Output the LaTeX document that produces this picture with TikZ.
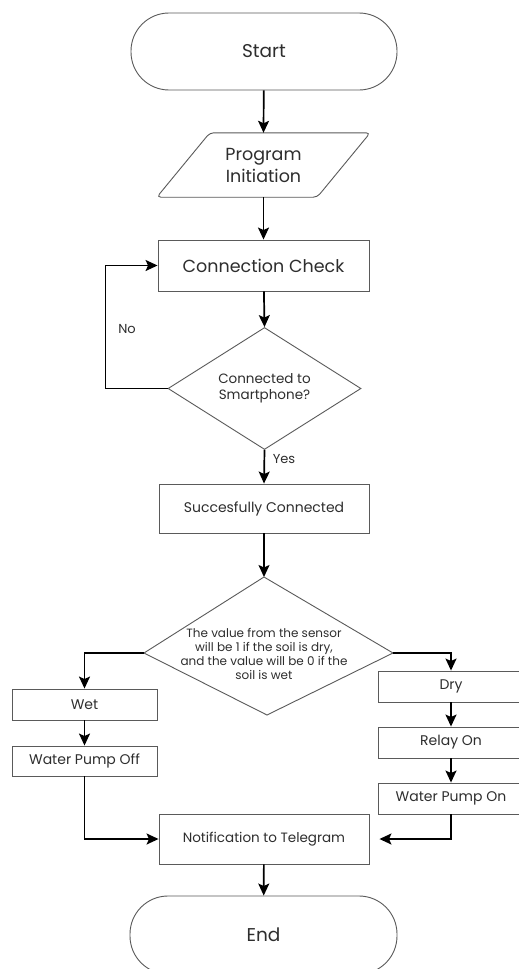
\documentclass[tikz,border=0pt]{standalone}
\usepackage{fontspec}
\setmainfont{Poppins}
\usetikzlibrary{shapes.geometric,arrows.meta,calc}
\definecolor{edge}{HTML}{5A5A5A}
\definecolor{txt}{HTML}{2E2E2E}
\begin{document}
\begin{tikzpicture}[x=1pt,y=-1pt,
  base/.style={draw=edge, line width=0.9pt, text=txt, inner sep=0pt, align=center},
  box/.style={base, rectangle},
  term/.style={base, rectangle, rounded corners=38pt, minimum width=266pt, minimum height=77pt, font=\fontsize{18.5}{22}\selectfont},
  arr/.style={draw=black, line width=1.7pt, -{Stealth[length=12pt,width=11pt,inset=2.5pt]}},
  lbl/.style={text=txt, font=\fontsize{13}{16}\selectfont, inner sep=0pt}]
\useasboundingbox (0,0) rectangle (519,969);
\clip (0,0) rectangle (519,969);
\fill[white] (0,0) rectangle (519,969);

\node[term] (start) at (264,51.5) {Start};

\node[inner sep=0pt, minimum width=213pt, minimum height=64pt, text=txt, align=center,
      font=\fontsize{17.5}{22}\selectfont] (pi) at (263.5,165) {Program\\Initiation};
\draw[draw=edge, line width=0.9pt, rounded corners=4pt]
  ($(pi.north west)+(53,0)$) -- (pi.north east) -- ($(pi.south east)-(53,0)$) -- (pi.south west) -- cycle;

\node[box, minimum width=211pt, minimum height=51pt, font=\fontsize{17.5}{21}\selectfont] (cc) at (263.5,265.5) {Connection Check};

\node[base, diamond, minimum width=193pt, minimum height=107pt, font=\fontsize{13.5}{16}\selectfont] (d1) at (264.5,388.5) {Connected to\\Smartphone?};

\node[box, minimum width=210pt, minimum height=49pt, font=\fontsize{14}{17}\selectfont] (sc) at (264,508.5) {Succesfully Connected};

\coordinate (d2t) at (264,577);
\coordinate (d2r) at (393,653);
\coordinate (d2b) at (267,715);
\coordinate (d2l) at (144,653);
\draw[draw=edge, line width=0.9pt] (d2t) -- (d2r) -- (d2b) -- (d2l) -- cycle;
\node[text=txt, align=center, inner sep=0pt, font=\fontsize{12}{14}\selectfont] (d2) at (264,654) {The value from the sensor\\will be 1 if the soil is dry,\\and the value will be 0 if the\\soil is wet};

\node[box, minimum width=145pt, minimum height=31pt, font=\fontsize{14}{16}\selectfont] (wet) at (84.5,704.5) {Wet};
\node[box, minimum width=145pt, minimum height=30pt, font=\fontsize{14}{16}\selectfont] (wpoff) at (84.5,761) {Water Pump Off};

\node[box, minimum width=146pt, minimum height=31pt, font=\fontsize{14}{16}\selectfont] (dry) at (451,686.5) {Dry};
\node[box, minimum width=146pt, minimum height=31pt, font=\fontsize{14}{16}\selectfont] (relay) at (451,742.5) {Relay On};
\node[box, minimum width=146pt, minimum height=31pt, font=\fontsize{14}{16}\selectfont] (wpon) at (451,798.5) {Water Pump On};

\node[box, minimum width=210pt, minimum height=50pt, font=\fontsize{13.5}{17}\selectfont] (notif) at (264,839) {Notification to Telegram};

\node[term, minimum width=267pt, minimum height=78pt] (end) at (263.5,935) {End};

% connectors
\draw[arr] (start) -- (pi.north);
\draw[arr] (pi.south) -- (cc.north);
\draw[arr] (cc) -- (d1.north);
\draw[arr] (d1.west) -- ++(-62,0) |- (cc.west);
\draw[arr] (d1.south) -- (sc.north);
\draw[arr] (sc) -- (d2t);
\draw[arr] (d2l) -| (wet.north);
\draw[arr] (wet) -- (wpoff);
\draw[arr] (d2r) -| (dry.north);
\draw[arr] (dry) -- (relay);
\draw[arr] (relay) -- (wpon);
\draw[arr] (wpoff.south) |- (notif.west);
\draw[arr, shorten >=10pt] (wpon.south) |- (notif.east);
\draw[arr] (notif) -- (end);

\node[lbl] (no) at (127,329) {No};
\node[lbl] (yes) at (284,459) {Yes};
\end{tikzpicture}
\end{document}
